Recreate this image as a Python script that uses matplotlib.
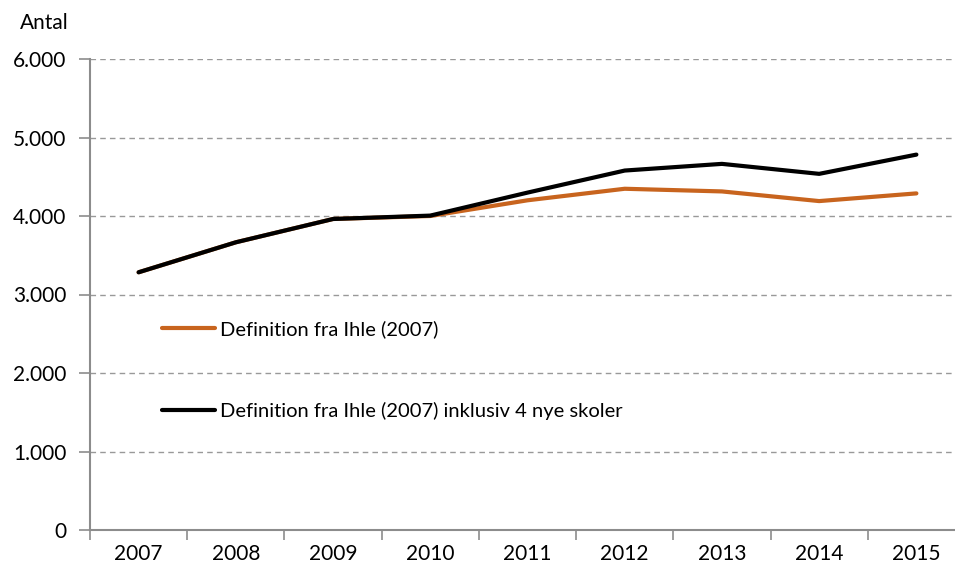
import matplotlib.pyplot as plt
from matplotlib.ticker import FuncFormatter, FixedLocator

plt.rcParams['font.family'] = ['Lato', 'DejaVu Sans']

years = [2007, 2008, 2009, 2010, 2011, 2012, 2013, 2014, 2015]
ihle = [3283, 3665, 3962, 4000, 4200, 4347, 4313, 4190, 4288]
ihle_nye = [3283, 3665, 3962, 4005, 4298, 4579, 4664, 4537, 4782]

labels = ["Definition fra Ihle (2007)",
          "Definition fra Ihle (2007) inklusiv 4 nye skoler"]
orange = "#C8641E"
grey = "#8C8C8C"

fig = plt.figure(figsize=(9.55, 5.7), dpi=100)
ax = fig.add_axes([90 / 955, 40 / 570, 875 / 955, 471 / 570])

x = list(range(len(years)))
ax.plot(x, ihle, color=orange, lw=3.0, label=labels[0], solid_capstyle="round")
ax.plot(x, ihle_nye, color="black", lw=3.0, label=labels[1], solid_capstyle="round")

ax.set_xlim(-0.5, len(years) - 0.5)
ax.set_ylim(0, 6000)
ax.set_yticks(range(0, 6001, 1000))
ax.yaxis.set_major_formatter(FuncFormatter(lambda v, p: f"{int(v):,}".replace(",", ".")))
ax.yaxis.grid(True, linestyle=(0, (4, 3)), color="#999999", lw=1)
ax.set_axisbelow(True)

# kategori-akse: streger mellem årene, labels i midten
ax.xaxis.set_major_locator(FixedLocator([i - 0.5 for i in range(len(years) + 1)]))
ax.xaxis.set_major_formatter(FuncFormatter(lambda v, p: ""))
ax.xaxis.set_minor_locator(FixedLocator(x))
ax.set_xticklabels([str(y) for y in years], minor=True)
ax.tick_params(axis="x", which="minor", length=0, pad=10, labelsize=15)
ax.tick_params(axis="x", which="major", length=7, color=grey, width=1.2)
ax.tick_params(axis="y", length=8, color=grey, width=1.2, pad=9, labelsize=15)

for s in ["top", "right"]:
    ax.spines[s].set_visible(False)
for s in ["left", "bottom"]:
    ax.spines[s].set_color(grey)
    ax.spines[s].set_linewidth(1.5)

fig.text(20 / 955, 1 - 23 / 570, "Antal", fontsize=15, va="center", ha="left")

ax.legend(loc="upper left", bbox_to_anchor=(0.061, 0.484), frameon=False,
          fontsize=14.5, handlelength=2.65, handletextpad=0.25, labelspacing=3.15)

fig.savefig("out.png", dpi=100)
